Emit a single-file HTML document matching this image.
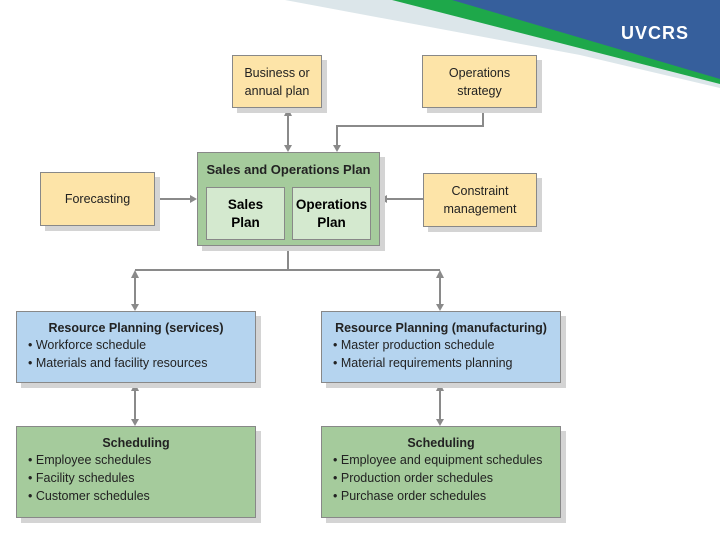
<!DOCTYPE html>
<html><head><style>
body{margin:0;width:720px;height:540px;background:#fff;position:relative;overflow:hidden;font-family:"Liberation Sans",sans-serif;}
.b{position:absolute;box-sizing:border-box;border:1px solid #888;box-shadow:5px 5px 0 #d4d4d4;font-size:12.5px;color:#222;}
.t{background:#fde4a8;text-align:center;display:flex;align-items:center;justify-content:center;line-height:18px;}
.g{background:#a5cb9c;}
.bl{background:#b5d4ef;}
.h{font-weight:bold;text-align:center;margin-top:9px;}
ul{margin:1px 0 0 0;padding-left:11px;list-style:none;line-height:18px;}
li:before{content:"• ";}
.in{position:absolute;background:#d4e9cf;border:1px solid #888;box-sizing:border-box;font-weight:bold;text-align:center;display:flex;align-items:center;justify-content:center;line-height:18px;font-size:13.5px;}
</style></head><body>
<svg width="720" height="540" style="position:absolute;left:0;top:0">
<polygon points="285,0 720,0 720,88 580,55" fill="#dce6ea"/>
<polygon points="392,0 720,0 720,84" fill="#1ea84a"/>
<polygon points="452,0 720,0 720,79" fill="#365f9c"/>
<text x="621" y="39" fill="#fff" font-size="18" font-weight="bold" font-family="Liberation Sans" letter-spacing="1">UVCRS</text>
<g stroke="#8a8a8a" stroke-width="2" fill="none">
<line x1="288" y1="112" x2="288" y2="148"/>
<polyline points="483,108 483,126 337,126 337,148"/>
<line x1="155" y1="199" x2="193" y2="199"/>
<line x1="423" y1="199" x2="384" y2="199"/>
<line x1="288" y1="246" x2="288" y2="270"/>
<line x1="135" y1="270" x2="440" y2="270"/>
<line x1="135" y1="274" x2="135" y2="307"/>
<line x1="440" y1="274" x2="440" y2="307"/>
<line x1="135" y1="387" x2="135" y2="422"/>
<line x1="440" y1="387" x2="440" y2="422"/>
</g>
<g fill="#8a8a8a">
<polygon points="284,116 292,116 288,108"/><polygon points="284,145 292,145 288,152"/>
<polygon points="333,145 341,145 337,152"/>
<polygon points="190,195 190,203 197,199"/>
<polygon points="387,195 387,203 380,199"/>
<polygon points="131,278 139,278 135,270"/><polygon points="131,304 139,304 135,311"/>
<polygon points="436,278 444,278 440,270"/><polygon points="436,304 444,304 440,311"/>
<polygon points="131,391 139,391 135,383"/><polygon points="131,419 139,419 135,426"/>
<polygon points="436,391 444,391 440,383"/><polygon points="436,419 444,419 440,426"/>
</g>
</svg>
<div class="b t" style="left:232px;top:55px;width:90px;height:53px">Business or<br>annual plan</div>
<div class="b t" style="left:422px;top:55px;width:115px;height:53px">Operations<br>strategy</div>
<div class="b t" style="left:40px;top:172px;width:115px;height:54px">Forecasting</div>
<div class="b t" style="left:423px;top:173px;width:114px;height:54px">Constraint<br>management</div>
<div class="b g" style="left:197px;top:152px;width:183px;height:94px"><div style="font-weight:bold;text-align:center;margin-top:9px;font-size:13px">Sales and Operations Plan</div></div>
<div class="in" style="left:206px;top:187px;width:79px;height:53px">Sales<br>Plan</div>
<div class="in" style="left:292px;top:187px;width:79px;height:53px">Operations<br>Plan</div>
<div class="b bl" style="left:16px;top:311px;width:240px;height:72px"><div class="h">Resource Planning (services)</div><ul><li>Workforce schedule</li><li>Materials and facility resources</li></ul></div>
<div class="b bl" style="left:321px;top:311px;width:240px;height:72px"><div class="h">Resource Planning (manufacturing)</div><ul><li>Master production schedule</li><li>Material requirements planning</li></ul></div>
<div class="b g" style="left:16px;top:426px;width:240px;height:92px"><div class="h">Scheduling</div><ul><li>Employee schedules</li><li>Facility schedules</li><li>Customer schedules</li></ul></div>
<div class="b g" style="left:321px;top:426px;width:240px;height:92px"><div class="h">Scheduling</div><ul><li>Employee and equipment schedules</li><li>Production order schedules</li><li>Purchase order schedules</li></ul></div>
</body></html>
